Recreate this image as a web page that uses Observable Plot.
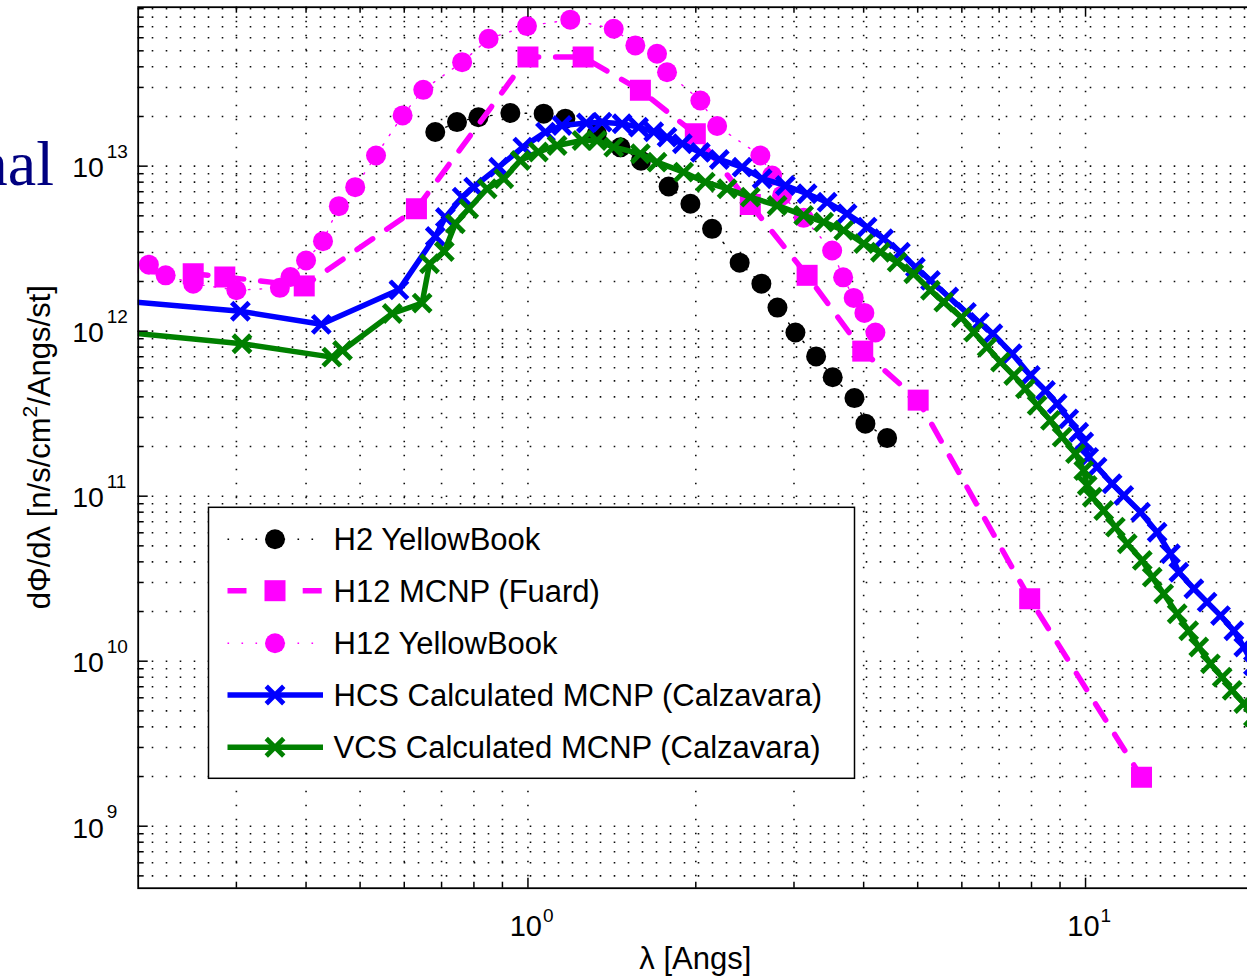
<!DOCTYPE html>
<html><head><meta charset="utf-8">
<script src="https://cdn.jsdelivr.net/npm/d3@7"></script>
<script src="https://cdn.jsdelivr.net/npm/@observablehq/plot@0.6"></script>
<style>
html,body{margin:0;padding:0;overflow:hidden;background:#fff;}
#wrap{position:relative;width:1247px;height:980px;overflow:hidden;}
#wrap svg{max-width:none !important;}
</style></head><body><div id="wrap"></div>
<script>
// ---------------- data (λ in Å, flux in n/s/cm²/Å/st) ----------------
const h2YB_lambda = [0.682,0.746,0.815,0.930,1.067,1.167,1.329,1.465,1.595,1.788,1.956,2.139,2.397,2.622,2.802,3.018,3.287,3.520,3.851,4.029,4.407];
const h2YB_flux   = [1.61e13,1.85e13,1.98e13,2.10e13,2.08e13,1.94e13,1.57e13,1.30e13,1.08e13,7.53e12,5.92e12,4.17e12,2.60e12,1.94e12,1.39e12,9.82e11,7.03e11,5.26e11,3.93e11,2.75e11,2.25e11];

const h12MCNP_lambda = [0.158,0.251,0.286,0.397,0.631,1.0,1.256,1.591,1.996,2.505,3.167,3.985,5.01,7.94,12.6];
const h12MCNP_flux   = [2.4e12,2.23e12,2.13e12,1.88e12,5.52e12,4.58e13,4.58e13,2.88e13,1.57e13,5.86e12,2.18e12,7.57e11,3.82e11,2.39e10,1.98e9];

const h12YB_lambda = [0.209,0.224,0.251,0.300,0.359,0.375,0.400,0.429,0.458,0.490,0.534,0.596,0.649,0.762,0.850,0.996,1.191,1.425,1.558,1.704,1.776,2.038,2.184,2.611,2.741,2.856,3.122,3.512,3.675,3.839,4.012,4.199];
const h12YB_flux   = [2.53e12,2.18e12,1.94e12,1.77e12,1.83e12,2.13e12,2.68e12,3.51e12,5.72e12,7.46e12,1.16e13,2.03e13,2.90e13,4.27e13,5.92e13,7.06e13,7.72e13,6.80e13,5.39e13,4.80e13,3.71e13,2.50e13,1.75e13,1.16e13,8.78e12,6.65e12,4.86e12,3.08e12,2.12e12,1.59e12,1.29e12,9.82e11];

const hcs_lambda = [0.15,0.305,0.426,0.587,0.682,0.711,0.762,0.799,0.886,0.979,1.075,1.151,1.273,1.358,1.475,1.579,1.681,1.776,1.892,2.038,2.204,2.421,2.630,2.895,3.167,3.440,3.736,4.058,4.345,4.656,4.953,5.27,5.684,6.115,6.452,6.82,7.385,7.963,8.475,8.895,9.331,9.723,9.926,10.13,10.49,11.16,11.71,12.55,13.44,14.20,14.70,15.64,16.52,17.46,18.45,19.22,20];
const hcs_flux   = [1.63e12,1.32e12,1.10e12,1.78e12,3.75e12,4.89e12,6.49e12,7.46e12,9.86e12,1.304e13,1.607e13,1.765e13,1.827e13,1.848e13,1.807e13,1.723e13,1.616e13,1.499e13,1.367e13,1.211e13,1.098e13,9.86e12,8.39e12,7.64e12,6.80e12,6.05e12,5.15e12,4.27e12,3.63e12,3.01e12,2.44e12,2.03e12,1.61e12,1.30e12,1.13e12,9.64e11,7.30e11,5.39e11,4.37e11,3.63e11,2.94e11,2.44e11,2.13e11,1.72e11,1.50e11,1.19e11,1.01e11,8.00e10,6.05e10,4.48e10,3.46e10,2.75e10,2.28e10,1.89e10,1.53e10,1.22e10,9.4e9];

const vcs_lambda = [0.15,0.307,0.445,0.465,0.571,0.646,0.666,0.708,0.741,0.783,0.845,0.905,0.969,1.044,1.128,1.250,1.330,1.425,1.591,1.704,1.902,2.080,2.276,2.505,2.798,3.122,3.392,3.684,4.001,4.287,4.593,4.918,5.27,5.568,5.99,6.302,6.66,7.037,7.433,7.80,8.188,8.65,9.078,9.592,9.926,10.07,10.28,10.78,11.31,11.88,12.64,13.17,13.81,14.60,15.31,15.96,16.75,17.58,18.32,19.22,20];
const vcs_flux   = [1.06e12,8.39e11,6.96e11,7.64e11,1.28e12,1.48e12,2.56e12,3.04e12,4.48e12,5.52e12,7.30e12,8.39e12,1.083e13,1.219e13,1.335e13,1.431e13,1.431e13,1.304e13,1.189e13,1.057e13,9.20e12,8.00e12,7.30e12,6.49e12,5.78e12,5.03e12,4.58e12,4.08e12,3.39e12,3.01e12,2.62e12,2.23e12,1.77e12,1.50e12,1.21e12,9.86e11,8.00e11,6.49e11,5.39e11,4.48e11,3.55e11,2.88e11,2.28e11,1.81e11,1.43e11,1.16e11,9.86e10,8.19e10,6.49e10,5.15e10,4.08e10,3.23e10,2.56e10,1.94e10,1.53e10,1.22e10,9.64e9,8.00e9,6.65e9,5.54e9,4.6e9];

const seriesNames = ["H2 YellowBook","H12 MCNP (Fuard)","H12 YellowBook","HCS Calculated MCNP (Calzavara)","VCS Calculated MCNP (Calzavara)"];

const xDomain = [0.2, 20];
const yDomain = [4.21e8, 9.19e13];
const xMajorTicks = [1, 10];
const xMinorTicks = [0.3,0.4,0.5,0.6,0.7,0.8,0.9,2,3,4,5,6,7,8,9];
const yMajorTicks = [1e9, 1e10, 1e11, 1e12, 1e13];
const yMinorMultipliers = [2,3,4,5,6,7,8,9];
const yDecades = [1e8, 1e9, 1e10, 1e11, 1e12, 1e13];
const yMinorTicks = yDecades.flatMap(d => yMinorMultipliers.map(m => m * d)).filter(v => v > yDomain[0] && v < yDomain[1]);

const xLabel = "λ [Angs]";
const yLabelParts = ["dΦ/dλ [n/s/cm", "2", "/Angs/st]"];
const sideText = "nal";

// ---------------- styles ----------------
const MAG = "#ff00ff", BLUE = "#0000ff", GREEN = "#008000";
const styles = [
  {color: "black", symbol: "circle", r: 10, line: "dotted"},
  {color: MAG, symbol: "square", r: 11.85, line: "dashed"},
  {color: MAG, symbol: "circle", r: 10, line: "dotted"},
  {color: BLUE, symbol: "times", r: 8, line: "solid"},
  {color: GREEN, symbol: "times", r: 8, line: "solid"}
];
const lineStyle = {
  dotted: {strokeWidth: 1.4, strokeDasharray: "1.6,10"},
  dashed: {strokeWidth: 5.5, strokeDasharray: "19,17"},
  solid: {strokeWidth: 5.5}
};

const toRows = (ls, fs) => ls.map((l, i) => ({lambda: l, flux: fs[i]}));
const tables = [
  toRows(h2YB_lambda, h2YB_flux),
  toRows(h12MCNP_lambda, h12MCNP_flux),
  toRows(h12YB_lambda, h12YB_flux),
  toRows(hcs_lambda, hcs_flux),
  toRows(vcs_lambda, vcs_flux)
];

function seriesMarks(data, st) {
  const ls = lineStyle[st.line];
  const line = Plot.line(data, {x: "lambda", y: "flux", stroke: st.color, ...ls, clip: true, strokeLinejoin: "round"});
  const dotOpts = {x: "lambda", y: "flux", symbol: st.symbol, r: st.r, clip: true};
  const dot = st.symbol === "times"
    ? Plot.dot(data, {...dotOpts, stroke: st.color, fill: "none", strokeWidth: 4.8})
    : Plot.dot(data, {...dotOpts, fill: st.color, stroke: "none"});
  return [line, dot];
}

// ---------------- layout ----------------
const W = 1260, H = 980;
const fL = 137.7, fR = 1252.9, fT = 6.7, fB = 887.7;
const frameH = fB - fT, frameW = fR - fL;
const majLen = 10, minLen = 6;
const gridStyle = {stroke: "#000", strokeWidth: 1.6, strokeDasharray: "1.6,12.4", strokeOpacity: 0.95};
const tickFont = "'Liberation Sans', Arial, Helvetica, sans-serif";

const allXGrid = [...xMinorTicks, ...xMajorTicks];
const allYGrid = [...yMinorTicks, ...yMajorTicks];

const svg = Plot.plot({
  width: W, height: H,
  marginLeft: fL, marginRight: W - fR, marginTop: fT, marginBottom: H - fB,
  style: {fontFamily: tickFont, background: "white", overflow: "visible", maxWidth: "none"},
  x: {type: "log", domain: xDomain, axis: null},
  y: {type: "log", domain: yDomain, axis: null},
  marks: [
    Plot.ruleX(allXGrid, {x: d => d, ...gridStyle}),
    Plot.ruleY(allYGrid, {y: d => d, ...gridStyle}),
    ...tables.flatMap((t, i) => seriesMarks(t, styles[i])),
    // inward ticks: bottom, top, left
    Plot.tickX(xMajorTicks, {x: d => d, stroke: "black", strokeWidth: 1.5, insetTop: frameH - majLen}),
    Plot.tickX(xMinorTicks, {x: d => d, stroke: "black", strokeWidth: 1.5, insetTop: frameH - minLen}),
    Plot.tickX(xMajorTicks, {x: d => d, stroke: "black", strokeWidth: 1.5, insetBottom: frameH - majLen}),
    Plot.tickX(xMinorTicks, {x: d => d, stroke: "black", strokeWidth: 1.5, insetBottom: frameH - minLen}),
    Plot.tickY(yMajorTicks, {y: d => d, stroke: "black", strokeWidth: 1.5, insetRight: frameW - majLen}),
    Plot.tickY(yMinorTicks, {y: d => d, stroke: "black", strokeWidth: 1.5, insetRight: frameW - minLen}),
    Plot.frame({stroke: "black", strokeWidth: 1.8}),
    // tick labels (10 with exponent)
    Plot.text(yMajorTicks, {y: d => d, frameAnchor: "left", text: () => "10", textAnchor: "start",
      lineAnchor: "bottom", dx: -66, dy: 11.3, fontSize: 28.5, fill: "black", fontFamily: tickFont}),
    Plot.text(yMajorTicks, {y: d => d, frameAnchor: "left", text: d => String(Math.round(Math.log10(d))),
      textAnchor: "start", lineAnchor: "bottom", dx: -31.5, dy: -8.5, fontSize: 19, fill: "black", fontFamily: tickFont}),
    Plot.text(xMajorTicks, {x: d => d, frameAnchor: "bottom", text: () => "10", textAnchor: "end",
      lineAnchor: "bottom", dx: 14, dy: 47.3, fontSize: 29, fill: "black", fontFamily: tickFont}),
    Plot.text(xMajorTicks, {x: d => d, frameAnchor: "bottom", text: d => String(Math.round(Math.log10(d))),
      textAnchor: "start", lineAnchor: "bottom", dx: 15, dy: 33.5, fontSize: 19, fill: "black", fontFamily: tickFont})
  ]
});
svg.style.maxWidth = "none";
svg.setAttribute("width", W);
svg.style.width = W + "px";
svg.style.height = H + "px";

const s = d3.select(svg);

// axis labels
s.append("text").attr("x", (fL + fR) / 2).attr("y", 968.5).attr("text-anchor", "middle")
  .attr("font-family", tickFont).attr("font-size", 31).attr("fill", "black").text(xLabel);

const yl = s.append("text").attr("transform", `translate(50,${(fT + fB) / 2}) rotate(-90)`)
  .attr("text-anchor", "middle").attr("font-family", tickFont).attr("font-size", 31).attr("fill", "black");
yl.append("tspan").text(yLabelParts[0]);
yl.append("tspan").attr("dy", -13).attr("font-size", 21).text(yLabelParts[1]);
yl.append("tspan").attr("dy", 13).text(yLabelParts[2]);

// cropped slide text at left
s.append("text").attr("x", 54).attr("y", 185).attr("text-anchor", "end")
  .attr("font-family", "'Liberation Serif', 'Times New Roman', serif").attr("font-size", 64)
  .attr("fill", "#000080").text(sideText);

// legend
const lg = s.append("g").attr("text-anchor", "start");
const box = {x: 208.5, y: 507.3, w: 646, h: 271};
lg.append("rect").attr("x", box.x).attr("y", box.y).attr("width", box.w).attr("height", box.h)
  .attr("fill", "white").attr("stroke", "black").attr("stroke-width", 1.5);
const rowsY = [539.3, 590.7, 643.3, 695, 747.3];
const sx0 = 227.5, sx1 = 323, mx = 275, tx = 333.5;
const symMap = {circle: d3.symbolCircle, square: d3.symbolSquare, times: d3.symbolTimes};
seriesNames.forEach((name, i) => {
  const st = styles[i], y = rowsY[i], ls = lineStyle[st.line];
  const ln = lg.append("line").attr("x1", sx0).attr("x2", sx1).attr("y1", y).attr("y2", y)
    .attr("stroke", st.color).attr("stroke-width", ls.strokeWidth);
  if (st.line === "dashed") ln.attr("stroke-dasharray", "19,18.6");
  else if (ls.strokeDasharray) ln.attr("stroke-dasharray", "1.6,12.4");
  const p = d3.symbol(symMap[st.symbol], Math.PI * st.r * st.r)();
  const m = lg.append("path").attr("d", p).attr("transform", `translate(${mx},${y})`);
  if (st.symbol === "times") m.attr("fill", "none").attr("stroke", st.color).attr("stroke-width", 4.8);
  else m.attr("fill", st.color);
  lg.append("text").attr("x", tx).attr("y", y + 11).attr("text-anchor", "start").attr("font-family", tickFont)
    .attr("font-size", 31).attr("fill", "black").text(name);
});

document.getElementById("wrap").appendChild(svg);
</script></body></html>
